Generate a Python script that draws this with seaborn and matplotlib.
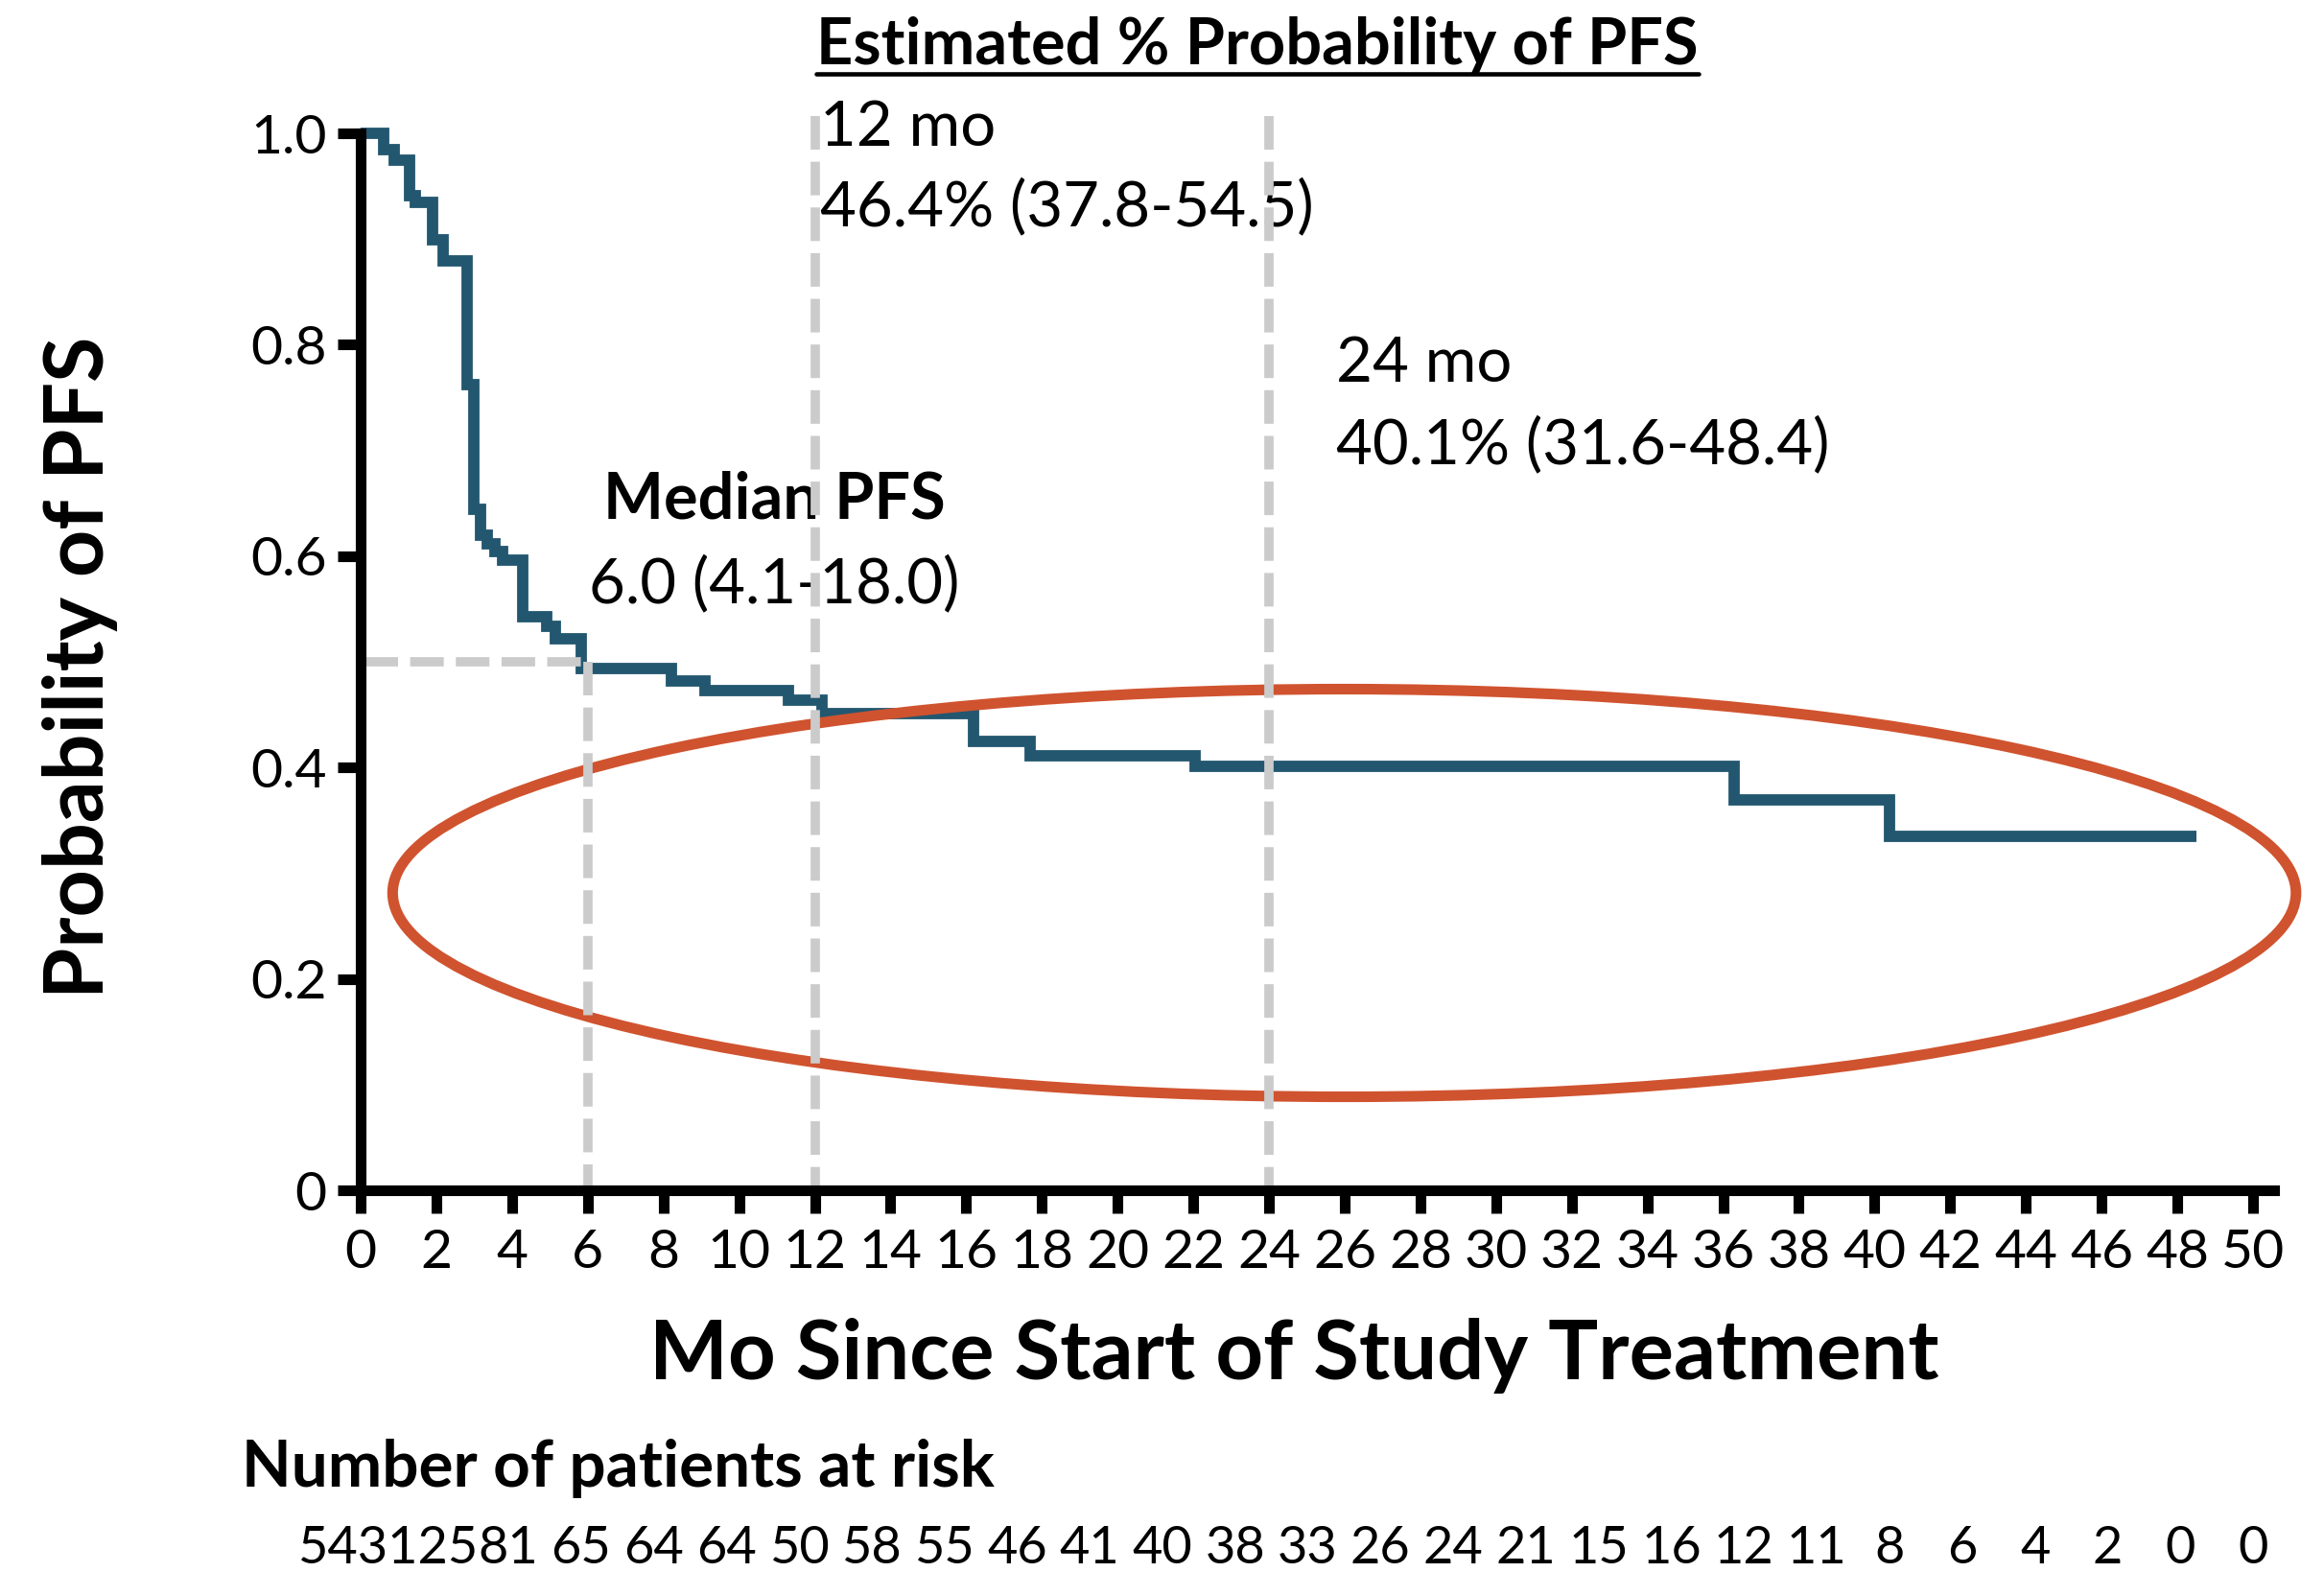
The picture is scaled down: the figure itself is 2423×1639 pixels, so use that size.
import matplotlib
matplotlib.use("Agg")
import matplotlib.pyplot as plt
from matplotlib.patches import Ellipse
from matplotlib.lines import Line2D
from matplotlib.transforms import blended_transform_factory
import pandas as pd
import seaborn as sns

# Kaplan-Meier estimate of progression-free survival (step changes)
km_months = [0, 0.61, 0.89, 1.29, 1.45, 1.91, 2.17, 2.82, 2.99, 3.16, 3.35,
             3.55, 3.75, 4.29, 4.92, 5.14, 5.82, 8.2, 9.1, 11.3, 12.2, 16.2,
             17.7, 22.05, 36.3, 40.4, 48.5]
km_pfs = [1.0, 0.985, 0.975, 0.941, 0.935, 0.899, 0.879, 0.762, 0.644, 0.620,
          0.612, 0.604, 0.596, 0.543, 0.534, 0.522, 0.494, 0.482, 0.473, 0.464,
          0.451, 0.425, 0.411, 0.401, 0.369, 0.335, 0.335]

x_ticks = list(range(0, 51, 2))
y_ticks = [0, 0.2, 0.4, 0.6, 0.8, 1.0]
y_tick_labels = ["0", "0.2", "0.4", "0.6", "0.8", "1.0"]

risk_months = list(range(0, 51, 2))
risk_counts = ["543125", "81", "65", "64", "64", "50", "58", "55", "46", "41",
               "40", "38", "33", "26", "24", "21", "15", "16", "12", "11",
               "8", "6", "4", "2", "0", "0"]

median_pfs = 6.0
median_label = "6.0 (4.1-18.0)"
landmark_months = [12, 24]
landmark_titles = ["12 mo", "24 mo"]
landmark_estimates = ["46.4% (37.8-54.5)", "40.1% (31.6-48.4)"]

# ---------------------------------------------------------------- styling
sns.set_theme(style="ticks")
plt.rcParams["font.family"] = ["Lato", "Open Sans", "DejaVu Sans"]
plt.rcParams["text.color"] = "black"
plt.rcParams["xtick.color"] = "black"
plt.rcParams["ytick.color"] = "black"

CURVE = "#235770"
REF_GRAY = "#cbcbcb"
RING = "#d0532f"

W, H = 2423, 1639
fig = plt.figure(figsize=(W / 100, H / 100), dpi=100)
fig.patch.set_facecolor("white")

x_max = 50.55
ax = fig.add_axes([376 / W, 1 - 1241 / H, x_max * 39.46 / W, 1102 / H])
ax.set_facecolor("white")

df = pd.DataFrame({"month": km_months, "pfs": km_pfs})
sns.lineplot(data=df, x="month", y="pfs", ax=ax, estimator=None,
             drawstyle="steps-post", color=CURVE, linewidth=8.5,
             solid_joinstyle="miter", solid_capstyle="butt",
             clip_on=False, zorder=2)

ax.set_xlim(0, x_max)
ax.set_ylim(0, 1.0)
ax.set_xticks(x_ticks)
ax.set_xticklabels([str(t) for t in x_ticks])
ax.set_yticks(y_ticks)
ax.set_yticklabels(y_tick_labels)
ax.set_xlabel("")
ax.set_ylabel("")

for side in ("top", "right"):
    ax.spines[side].set_visible(False)
for side in ("left", "bottom"):
    ax.spines[side].set_linewidth(8)
    ax.spines[side].set_color("black")
    ax.spines[side].set_zorder(5)

ax.tick_params(axis="both", which="major", direction="out", length=17.5,
               width=8, labelsize=41)
ax.tick_params(axis="x", pad=11)
ax.tick_params(axis="y", pad=8)

dash = dict(color=REF_GRAY, linewidth=7.0, dashes=(3.6, 1.3),
            solid_capstyle="butt", dash_capstyle="butt", clip_on=False,
            zorder=4)

# median reference lines
ax.plot([0.1, median_pfs], [0.5, 0.5], **dash)
ax.plot([median_pfs, median_pfs], [0.5, 0.0], **dash)

# landmark reference lines
for m in landmark_months:
    ax.plot([m, m], [1.016, 0.0], **dash)

# highlight ring around the plateau
ring = Ellipse((25.99, 0.2813), width=50.29, height=0.3857, fill=False,
               edgecolor=RING, linewidth=8, clip_on=False, zorder=3.5)
ax.add_patch(ring)

# landmark annotations
est_pos = [(12.13, 0.9885, 0.9129), (25.77, 0.765, 0.688)]
for (x, y1, y2), title, est in zip(est_pos, landmark_titles, landmark_estimates):
    ax.text(x, y1, title, ha="left", va="baseline", fontsize=47, zorder=3)
    ax.text(x, y2, est, ha="left", va="baseline", fontsize=47, zorder=3)

ax.text(10.92, 0.636, "Median PFS", ha="center", va="baseline",
        fontsize=48, fontweight="bold", zorder=3)
ax.text(10.92, 0.556, median_label, ha="center", va="baseline",
        fontsize=47, zorder=3)

# titles
title = fig.text(0.541, 1 - 66.7 / H, "Estimated % Probability of PFS",
                 ha="center", va="baseline", fontsize=48, fontweight="bold")
fig.text(1349 / W, 1 - 1438 / H, "Mo Since Start of Study Treatment",
         ha="center", va="baseline", fontsize=62.5, fontweight="bold")
fig.text(108 / W, 1 - 696 / H, "Probability of PFS", rotation=90,
         rotation_mode="anchor", ha="center", va="baseline", fontsize=62,
         fontweight="bold")
fig.text(252.4 / W, 1 - 1550 / H, "Number of patients at risk",
         ha="left", va="baseline", fontsize=48.5, fontweight="bold")

# number at risk row, evenly spaced and ending under the last tick
trans = blended_transform_factory(ax.transData, fig.transFigure)
n = len(risk_counts)
step = 1.921
risk_y = 1 - 1630 / H
risk_size = 39
risk_texts = {}
for k in range(1, n):
    xk = risk_months[-1] - (n - 1 - k) * step
    risk_texts[k] = ax.text(xk, risk_y, risk_counts[k], transform=trans,
                            ha="center", va="baseline", fontsize=risk_size,
                            clip_on=False)

fig.canvas.draw()
renderer = fig.canvas.get_renderer()

# first entry sits flush against the second one
bb1 = risk_texts[1].get_window_extent(renderer)
x_left = ax.transData.inverted().transform((bb1.x0, 0))[0]
ax.text(x_left, risk_y, risk_counts[0], transform=trans, ha="right",
        va="baseline", fontsize=risk_size, clip_on=False)

# underline under the heading
bb = title.get_window_extent(renderer)
inv = fig.transFigure.inverted()
(ux0, _), (ux1, _) = inv.transform([(bb.x0, 0), (bb.x1, 0)])
uy = 1 - 76.7 / H
fig.add_artist(Line2D([ux0, ux1], [uy, uy], color="black", linewidth=3.3,
                      transform=fig.transFigure))

fig.savefig("out.png", dpi=100, facecolor="white")
